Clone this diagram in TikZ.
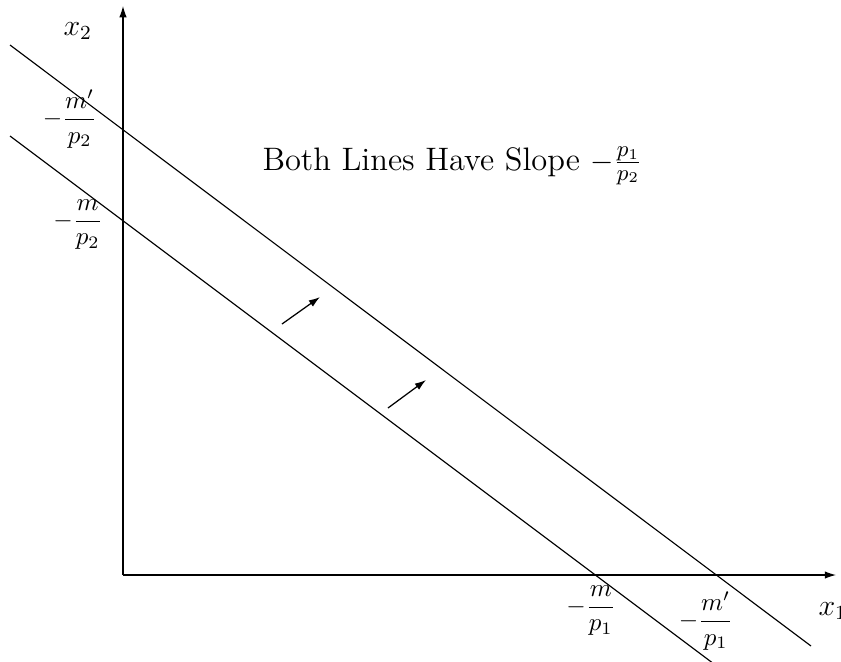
\documentclass[tikz,border=0pt]{standalone}
\usetikzlibrary{arrows.meta}
\begin{document}
\begin{tikzpicture}[x=0.4pt,y=-0.4pt,
  axis/.style={line width=0.45pt,-{Latex[length=4.5pt,width=3pt]}},
  budget/.style={line width=0.45pt},
  movearrow/.style={line width=0.5pt,-{Latex[length=4.5pt,width=3pt]}},
  lab/.style={inner sep=0pt}]
\useasboundingbox (0,0) rectangle (841,661);
\clip (0,0) rectangle (841,661);
\coordinate (O) at (123,575);
\coordinate (xend) at (836,575);
\coordinate (yend) at (123,6);
\draw[axis] (O) -- (xend);
\draw[axis] (O) -- (yend);
\coordinate (u1) at (10,45);
\coordinate (u2) at (811,646);
\coordinate (l1) at (10,136);
\coordinate (l2) at (718,667);
\draw[budget] (u1) -- (u2);
\draw[budget] (l1) -- (l2);
\coordinate (a1s) at (282,324);
\coordinate (a1e) at (320,297);
\coordinate (a2s) at (388,408);
\coordinate (a2e) at (426,380);
\draw[movearrow] (a1s) -- (a1e);
\draw[movearrow] (a2s) -- (a2e);
\node[lab,anchor=base west,font=\large] (x2) at (63,35) {$x_2$};
\node[lab,anchor=base west,font=\large] (x1) at (818,615) {$x_1$};
\node[lab] (mp2p) at (70,119) {$\displaystyle -\frac{m'}{p_2}$};
\node[lab] (mp2) at (78,225) {$\displaystyle -\frac{m}{p_2}$};
\node[lab] (mp1) at (591,611) {$\displaystyle -\frac{m}{p_1}$};
\node[lab] (mp1p) at (706,621) {$\displaystyle -\frac{m'}{p_1}$};
\node[lab,anchor=base west,font=\fontsize{13}{15}\selectfont] (title) at (262,170) {Both Lines Have Slope $-\frac{p_1}{p_2}$};
\end{tikzpicture}
\end{document}
